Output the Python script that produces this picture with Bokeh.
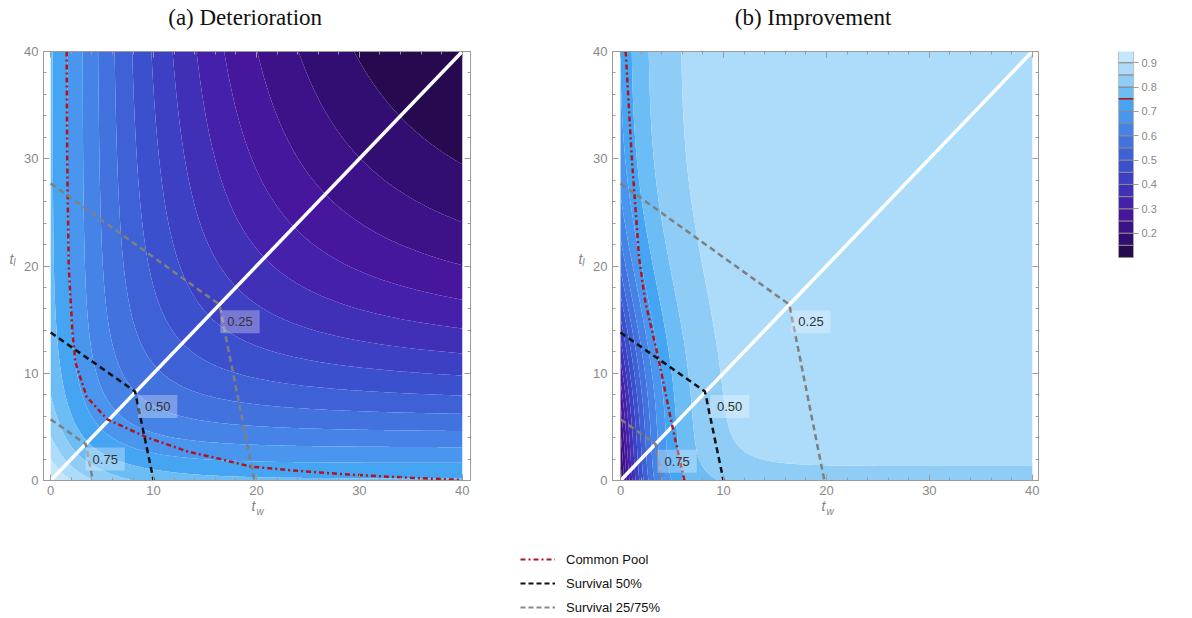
import numpy as np
from bokeh.plotting import figure
from bokeh.models import (Legend, LegendItem, LinearAxis, SingleIntervalTicker, Label,
                          FixedTicker, Range1d, CustomJSTickFormatter)
from bokeh.layouts import row, column
from bokeh.embed import file_html
from bokeh.resources import INLINE

# ---------------- data ----------------
levels = [0.10, 0.15, 0.20, 0.25, 0.30, 0.35, 0.40, 0.45, 0.50, 0.55,
          0.60, 0.65, 0.70, 0.75, 0.80, 0.85, 0.90, 0.95]
band_colors = ["#26094f", "#330e72", "#3d1289", "#46169c", "#4520aa", "#4030b5",
               "#3d40c2", "#3a50cc", "#3e62d6", "#4172de", "#4584e6", "#4a95ee",
               "#45a5f3", "#6cbcf5", "#8fcdf7", "#acdcf9", "#c6e7fb"]
cb_ticks = [0.2, 0.3, 0.4, 0.5, 0.6, 0.7, 0.8, 0.9]
cp_marker_level = 0.752

grid_t = np.linspace(0, 40, 161)

# surface parameters fitted to the contour positions seen in the picture
det_f0, det_drop, det_scale, det_beta, det_power = 0.97, 0.22, 5.0, 0.0058, 1.93
imp_top, imp_low_drop, imp_low_scale = 0.885, 0.06, 2.5
imp_amp_far, imp_amp_near, imp_amp_scale = 0.18, 0.53, 17.7
imp_rate, imp_rate_extra, imp_rate_scale = 0.28, 0.07, 5.0

# Common Pool curves
cp_a_tw = [1.55, 1.6, 1.75, 2.1, 2.4, 3.5, 5.5, 9.4, 13.3, 16.5, 19.4, 24.0, 29.0, 35.0, 40.0]
cp_a_tl = [40.0, 30.0, 20.0, 14.0, 11.0, 7.8, 5.7, 4.0, 2.7, 2.0, 1.3, 0.9, 0.55, 0.25, 0.05]
cp_b_tw = [0.5, 1.1, 1.8, 2.4, 3.7, 5.0, 6.2]
cp_b_tl = [40.0, 30.0, 20.8, 16.7, 11.3, 5.2, 0.0]

# Survival curves (same in both panels)
s50_tw = [0.0, 8.2, 10.0]
s50_tl = [13.8, 8.3, 0.0]
s25_tw = [0.0, 16.4, 19.8]
s25_tl = [27.7, 16.4, 0.0]
s75_tw = [0.0, 3.4, 4.1]
s75_tl = [5.7, 3.4, 0.0]
diag_t = [0.0, 40.0]

# label boxes
lab_text = ["0.25", "0.50", "0.75"]
lab_a_tw = [18.4, 10.4, 5.3]
lab_a_tl = [14.8, 6.9, 2.0]
lab_b_tw = [18.5, 10.6, 5.5]
lab_b_tl = [14.8, 6.9, 1.8]

titles = ["(a) Deterioration", "(b) Improvement"]
title_tw = [18.9, 18.7]
legend_labels = ["Common Pool", "Survival 50%", "Survival 25/75%"]

# ---------------- surfaces ----------------
TW, TL = np.meshgrid(grid_t, grid_t)
U = TW * TL / np.maximum(TW + TL, 1e-9)


def edge(t):
    return 1 - det_drop * (1 - np.exp(-t / det_scale))


Za = det_f0 * edge(TW) * edge(TL) * np.exp(-det_beta * U ** det_power)
M_b = imp_top - imp_low_drop * np.exp(-TL / imp_low_scale)
A_b = imp_amp_far + imp_amp_near * np.exp(-(TL / imp_amp_scale) ** 2)
R_b = imp_rate + imp_rate_extra * np.exp(-TL / imp_rate_scale)
Zb = M_b - A_b * np.exp(-R_b * TW)
Za = np.clip(Za, levels[0] + 1e-4, levels[-1] - 1e-4)
Zb = np.clip(Zb, levels[0] + 1e-4, levels[-1] - 1e-4)

GRAY = "#9b9b9b"
FONT = "Liberation Sans"
blank = CustomJSTickFormatter(code="return ''")

HR = 545
TOP, FH = 51, 429
BOT = HR - TOP - FH


def style_axis(ax, labels=True):
    ax.ticker = SingleIntervalTicker(interval=10, num_minor_ticks=5)
    ax.axis_line_color = GRAY
    ax.major_tick_line_color = GRAY
    ax.minor_tick_line_color = GRAY
    ax.major_tick_in = 6
    ax.major_tick_out = 0
    ax.minor_tick_in = 3
    ax.minor_tick_out = 0
    ax.major_label_text_color = "#888888"
    ax.major_label_text_font = FONT
    ax.major_label_text_font_size = "13px"
    ax.major_label_standoff = 5
    if not labels:
        ax.formatter = blank
        ax.major_label_standoff = 0


def letter_axis(p, side, pos, text, size, standoff, font=FONT, style="italic", color="#858585"):
    ax = LinearAxis(ticker=FixedTicker(ticks=[pos], minor_ticks=[]),
                    major_label_overrides={pos: text})
    ax.axis_line_color = None
    ax.major_tick_line_color = None
    ax.minor_tick_line_color = None
    ax.major_tick_in = 0
    ax.major_tick_out = 0
    ax.minor_tick_in = 0
    ax.minor_tick_out = 0
    ax.major_label_text_font = font
    ax.major_label_text_font_style = style
    ax.major_label_text_font_size = size
    ax.major_label_text_color = color
    ax.major_label_standoff = standoff
    p.add_layout(ax, side)


def make_panel(title, ttw, Z, cp_tw, cp_tl, lab_tw, lab_tl, x0, x1, bl, fw, br):
    p = figure(width=bl + fw + br, height=HR,
               x_range=Range1d(x0, x1), y_range=Range1d(0, 40),
               min_border_left=bl, min_border_right=br, min_border_top=TOP,
               min_border_bottom=BOT,
               output_backend="svg", toolbar_location=None)
    p.xgrid.visible = False
    p.ygrid.visible = False
    p.outline_line_color = GRAY
    cr = p.contour(x=grid_t, y=grid_t, z=Z, levels=levels, fill_color=band_colors, line_color=None)
    cr.fill_renderer.glyph.line_color = cr.fill_renderer.glyph.fill_color
    cr.fill_renderer.glyph.line_width = 1
    p.line(diag_t, diag_t, line_color="white", line_width=3.5)
    p.line(cp_tw, cp_tl, line_color="#b0141c", line_width=2.5, line_dash="5 3 2 3")
    p.line(s50_tw, s50_tl, line_color="#111111", line_width=2.5, line_dash="6 4")
    p.line(s25_tw, s25_tl, line_color="#7f7f7f", line_width=2.5, line_dash="6 4")
    p.line(s75_tw, s75_tl, line_color="#7f7f7f", line_width=2.5, line_dash="6 4")
    for t, x, y in zip(lab_text, lab_tw, lab_tl):
        p.add_layout(Label(x=x, y=y, text=t, text_align="center", text_baseline="middle",
                           text_font=FONT, text_font_size="13px", text_color="#333333",
                           background_fill_color="white", background_fill_alpha=0.3,
                           padding=7))
    style_axis(p.xaxis[0])
    style_axis(p.yaxis[0])
    top = LinearAxis()
    right = LinearAxis()
    style_axis(top, labels=False)
    style_axis(right, labels=False)
    p.add_layout(top, "above")
    p.add_layout(right, "right")
    # panel title as a labelled position above the frame
    letter_axis(p, "above", ttw, title, "23px", 22, font="Liberation Serif",
                style="normal", color="#111111")
    # axis labels t_l and t_w (subscript as a smaller letter)
    letter_axis(p, "left", 20.3, "l", "10px", 6)
    letter_axis(p, "left", 20.65, "t", "14px", -3)
    letter_axis(p, "below", 19.7, "t", "14px", 0)
    letter_axis(p, "below", 20.35, "w", "10px", -11)
    return p


pa = make_panel(titles[0], title_tw[0], Za, cp_a_tw, cp_a_tl,
                lab_a_tw, lab_a_tl, -0.7, 40.8, 43, 427, 40)
pb = make_panel(titles[1], title_tw[1], Zb, cp_b_tw, cp_b_tl,
                lab_b_tw, lab_b_tl, -0.78, 40.6, 102, 426, 57)

# ---------------- colour bar (same frame as the panels, bar in its upper part) ----------------
cb_top_px, cb_px_per_unit = 50, 243.5
cb_end = levels[-1] - (TOP - cb_top_px) / cb_px_per_unit
cb_start = cb_end - FH / cb_px_per_unit
pc = figure(width=23 + 15 + 37, height=HR, x_range=Range1d(0, 1),
            y_range=Range1d(cb_start, cb_end), y_axis_location="right",
            min_border_left=23, min_border_right=37, min_border_top=TOP,
            min_border_bottom=BOT, output_backend="svg", toolbar_location=None)
pc.xgrid.visible = False
pc.ygrid.visible = False
pc.xaxis.visible = False
pc.outline_line_color = None
pc.quad(left=0, right=1, bottom=levels[:-1], top=levels[1:], fill_color=band_colors,
        line_color="#8a8a8a", line_width=1)
pc.segment(x0=0, x1=1, y0=cp_marker_level, y1=cp_marker_level, line_color="#b0141c", line_width=1.5)
ya = pc.yaxis[0]
ya.ticker = FixedTicker(ticks=cb_ticks)
ya.axis_line_color = None
ya.major_tick_line_color = GRAY
ya.major_tick_in = 0
ya.major_tick_out = 5
ya.minor_tick_line_color = None
ya.major_label_text_color = "#888888"
ya.major_label_text_font = FONT
ya.major_label_text_font_size = "11px"
ya.major_label_standoff = 3

# ---------------- legend strip ----------------
LW = 43 + 427 + 40 + 102 + 426 + 57 + 75
pl = figure(width=LW, height=70, x_range=Range1d(100, 101), y_range=Range1d(100, 101),
            min_border=0, output_backend="svg", toolbar_location=None)
pl.axis.visible = False
pl.grid.visible = False
pl.outline_line_color = None
l_cp = pl.line(cp_b_tw, cp_b_tl, line_color="#b0141c", line_width=2, line_dash="5 3 2 3")
l_50 = pl.line(s50_tw, s50_tl, line_color="#111111", line_width=2, line_dash="5 3")
l_25 = pl.line(s25_tw, s25_tl, line_color="#8a8a8a", line_width=2, line_dash="5 3")
legend = Legend(items=[LegendItem(label=t, renderers=[r])
                       for t, r in zip(legend_labels, [l_cp, l_50, l_25])],
                location=(520, 0), border_line_color=None, background_fill_alpha=0,
                padding=0, margin=0, spacing=8, glyph_width=35, glyph_height=16,
                label_height=16, label_standoff=11, label_text_font=FONT,
                label_text_font_size="13px", label_text_color="#111111")
pl.add_layout(legend)

layout = column(row(pa, pb, pc), pl)
open("out.html", "w").write(file_html(layout, INLINE))
